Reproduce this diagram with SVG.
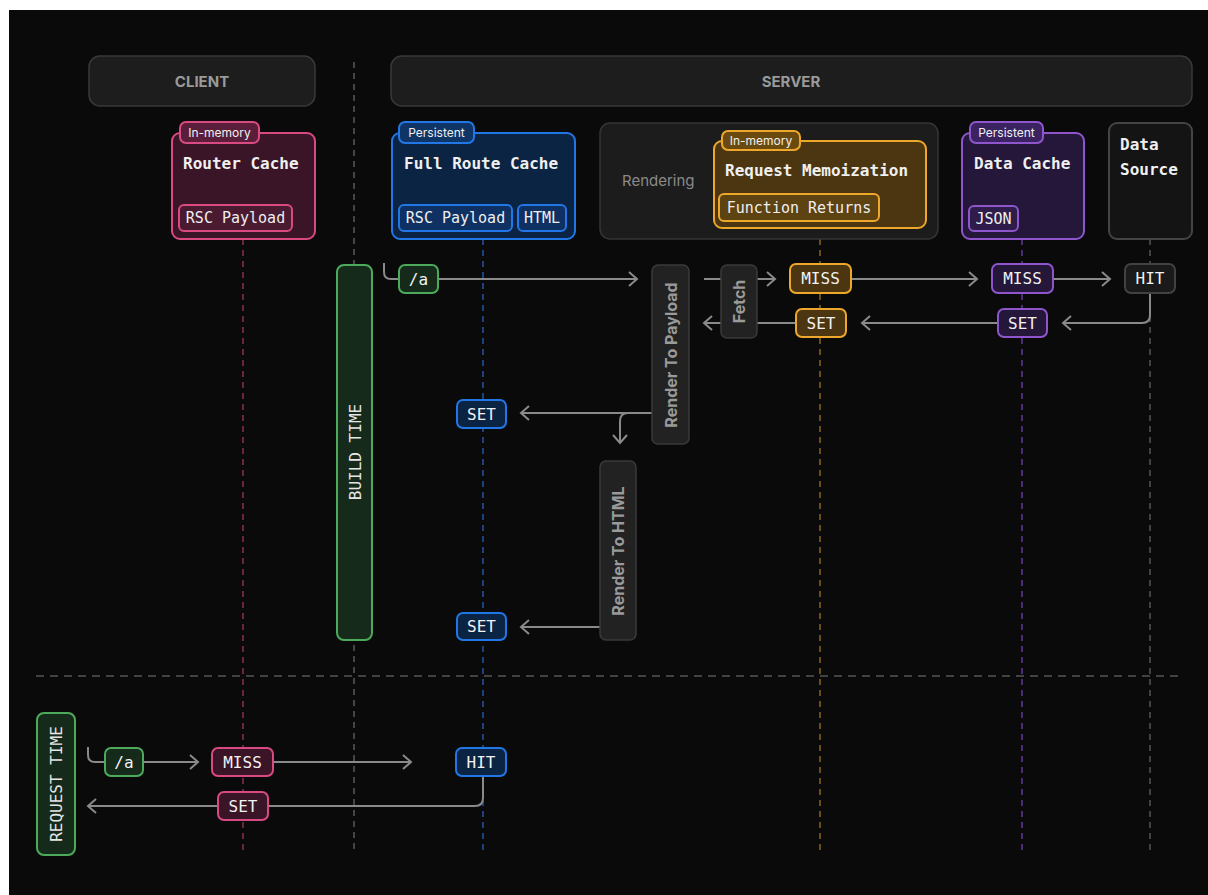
<svg xmlns="http://www.w3.org/2000/svg" width="1208" height="895" viewBox="0 0 1208 895">
<defs>
<style>
.mono{font-family:"DejaVu Sans Mono","Liberation Mono",monospace}
.sans{font-family:Inter,"Liberation Sans",sans-serif}
.hdr{fill:#1d1d1d;stroke:#393939;stroke-width:1.5}
.hdrt{fill:#9a9a9a;font-size:15px;font-weight:700;text-anchor:middle;dominant-baseline:central}
.title{fill:#f0f0f0;font-size:16px;font-weight:700}
.chip{font-size:15px;fill:#eeeeee;text-anchor:middle;dominant-baseline:central}
.fchip{font-size:16px;fill:#f2f2f2;text-anchor:middle;dominant-baseline:central}
.badget{font-size:12px;fill:#f0f0f0;text-anchor:middle;dominant-baseline:central}
.pink{fill:#3a1527;stroke:#d94a82;stroke-width:2}
.blue{fill:#0b2444;stroke:#2277e6;stroke-width:2}
.orange{fill:#4b3611;stroke:#eda72b;stroke-width:2}
.purple{fill:#24173a;stroke:#8e55cc;stroke-width:2}
.green{fill:#162a1b;stroke:#4caa5a;stroke-width:2}
.grayn{fill:#1a1a1a;stroke:#424242;stroke-width:2}
.step{fill:#222222;stroke:#3a3a3a;stroke-width:1.5}
.stept{fill:#9a9a9a;font-size:16px;font-weight:700;text-anchor:middle;dominant-baseline:central}
.conn{fill:none;stroke:#8a8a8a;stroke-width:2}
.life{fill:none;stroke-width:1.5;stroke-dasharray:6 5}
</style>
<marker id="arr" markerUnits="userSpaceOnUse" markerWidth="12" markerHeight="18" refX="9" refY="8" orient="auto">
<path d="M1,1 L9,8 L1,15" fill="none" stroke="#8a8a8a" stroke-width="2"/>
</marker>
</defs>
<rect x="0" y="0" width="1208" height="895" fill="#ffffff"/>
<rect x="9" y="10" width="1199" height="885" fill="#0a0a0a"/>

<g id="lifelines">
<line class="life" x1="354" y1="62" x2="354" y2="852" stroke="#5a5a5a"/>
<line class="life" x1="243" y1="239" x2="243" y2="852" stroke="#8a2f55"/>
<line class="life" x1="483" y1="239" x2="483" y2="852" stroke="#1f57a8"/>
<line class="life" x1="820" y1="228" x2="820" y2="852" stroke="#8c6420"/>
<line class="life" x1="1022" y1="239" x2="1022" y2="852" stroke="#62399a"/>
<line class="life" x1="1150" y1="239" x2="1150" y2="852" stroke="#555555"/>
<line class="life" x1="36" y1="676" x2="1178" y2="676" stroke="#555555" style="stroke-dasharray:8 6"/>
</g>

<g id="connectors">
<path class="conn" d="M384,263 V272 Q384,279 391,279 H399"/>
<path class="conn" d="M438,279 H637" marker-end="url(#arr)"/>
<path class="conn" d="M704,279 H775" marker-end="url(#arr)"/>
<path class="conn" d="M851,279 H977" marker-end="url(#arr)"/>
<path class="conn" d="M1053,279 H1110" marker-end="url(#arr)"/>
<path class="conn" d="M1150,293 V315 Q1150,323 1142,323 H1063" marker-end="url(#arr)"/>
<path class="conn" d="M998,323 H862" marker-end="url(#arr)"/>
<path class="conn" d="M796,323 H704" marker-end="url(#arr)"/>
<path class="conn" d="M652,413 H521" marker-end="url(#arr)"/>
<path class="conn" d="M628,413 Q620,413 620,421 V443" marker-end="url(#arr)"/>
<path class="conn" d="M600,627 H521" marker-end="url(#arr)"/>
<path class="conn" d="M88,747 V755 Q88,762 95,762 H105"/>
<path class="conn" d="M143,762 H198" marker-end="url(#arr)"/>
<path class="conn" d="M273,762 H411" marker-end="url(#arr)"/>
<path class="conn" d="M483,776 V798 Q483,806 475,806 H88" marker-end="url(#arr)"/>
</g>

<g id="client-header">
<rect class="hdr" x="89" y="56" width="226" height="50" rx="11"/>
<text class="sans hdrt" x="202" y="81">CLIENT</text>
</g>
<g id="server-header">
<rect class="hdr" x="391" y="56" width="801" height="50" rx="11"/>
<text class="sans hdrt" x="791" y="81">SERVER</text>
</g>

<g id="router-cache">
<rect class="pink" x="172" y="133" width="143" height="106" rx="8"/>
<rect class="pink" x="180" y="122" width="79" height="21" rx="6" style="fill:#5a1d3a"/>
<text class="sans badget" x="219.5" y="132.5">In-memory</text>
<text class="mono title" x="183" y="169">Router Cache</text>
<rect class="pink" x="179" y="205" width="113" height="26" rx="5" style="fill:#4a1a31"/>
<text class="mono chip" x="235.5" y="218">RSC Payload</text>
</g>

<g id="full-route-cache">
<rect class="blue" x="392" y="133" width="183" height="106" rx="8"/>
<rect class="blue" x="399" y="122" width="75" height="21" rx="6" style="fill:#0f3566"/>
<text class="sans badget" x="436.5" y="132.5">Persistent</text>
<text class="mono title" x="404" y="169">Full Route Cache</text>
<rect class="blue" x="399" y="205" width="113" height="26" rx="5" style="fill:#0f3062"/>
<text class="mono chip" x="455.5" y="218">RSC Payload</text>
<rect class="blue" x="518" y="205" width="48" height="26" rx="5" style="fill:#0f3062"/>
<text class="mono chip" x="542" y="218">HTML</text>
</g>

<g id="rendering">
<rect x="600" y="123" width="338" height="116" rx="10" fill="#1c1c1c" stroke="#353535" stroke-width="1.5"/>
<text class="sans" x="622" y="180" font-size="15" fill="#8a8a8a" dominant-baseline="central">Rendering</text>
</g>

<g id="request-memoization">
<rect class="orange" x="714" y="141" width="212" height="87" rx="8"/>
<rect class="orange" x="722" y="131" width="78" height="19" rx="6" style="fill:#6b4a10"/>
<text class="sans badget" x="761" y="140.5">In-memory</text>
<text class="mono title" x="725" y="176">Request Memoization</text>
<rect class="orange" x="719" y="194" width="160" height="27" rx="5" style="fill:#5e4312"/>
<text class="mono chip" x="799" y="207.5">Function Returns</text>
</g>

<g id="data-cache">
<rect class="purple" x="962" y="133" width="122" height="106" rx="8"/>
<rect class="purple" x="970" y="122" width="73" height="21" rx="6" style="fill:#3a2360"/>
<text class="sans badget" x="1006.5" y="132.5">Persistent</text>
<text class="mono title" x="974" y="169">Data Cache</text>
<rect class="purple" x="969" y="206" width="49" height="25" rx="5" style="fill:#2e1c4a"/>
<text class="mono chip" x="993.5" y="218.5">JSON</text>
</g>

<g id="data-source">
<rect x="1109" y="123" width="83" height="116" rx="8" fill="#141414" stroke="#444444" stroke-width="2"/>
<text class="mono title" x="1120" y="150">Data</text>
<text class="mono title" x="1120" y="175">Source</text>
</g>

<g id="build-time">
<rect class="green" x="337" y="265" width="35" height="375" rx="7"/>
<text class="mono" x="355" y="452" font-size="16" fill="#e6e6e6" text-anchor="middle" dominant-baseline="central" transform="rotate(-90 355 452)">BUILD TIME</text>
</g>

<g id="build-path">
<rect class="green" x="399" y="265" width="39" height="28" rx="6"/>
<text class="mono fchip" x="418.5" y="279">/a</text>
</g>

<g id="render-to-payload">
<rect class="step" x="652" y="265" width="37" height="179" rx="6"/>
<text class="sans stept" x="670.5" y="355" transform="rotate(-90 670.5 355)">Render To Payload</text>
</g>

<g id="fetch">
<rect class="step" x="721" y="265" width="36" height="73" rx="6"/>
<text class="sans stept" x="739" y="301.5" transform="rotate(-90 739 301.5)">Fetch</text>
</g>

<g id="memo-miss">
<rect class="orange" x="790" y="264" width="61" height="29" rx="6"/>
<text class="mono fchip" x="820.5" y="278.5">MISS</text>
</g>
<g id="data-miss">
<rect class="purple" x="992" y="264" width="61" height="29" rx="6"/>
<text class="mono fchip" x="1022.5" y="278.5">MISS</text>
</g>
<g id="source-hit">
<rect class="grayn" x="1125" y="264" width="50" height="29" rx="6"/>
<text class="mono fchip" x="1150" y="278.5">HIT</text>
</g>
<g id="data-set">
<rect class="purple" x="998" y="309" width="49" height="28" rx="6"/>
<text class="mono fchip" x="1022.5" y="323">SET</text>
</g>
<g id="memo-set">
<rect class="orange" x="796" y="309" width="50" height="28" rx="6"/>
<text class="mono fchip" x="821" y="323">SET</text>
</g>

<g id="payload-set">
<rect class="blue" x="457" y="400" width="49" height="28" rx="6"/>
<text class="mono fchip" x="481.5" y="414">SET</text>
</g>

<g id="render-to-html">
<rect class="step" x="600" y="461" width="36" height="179" rx="6"/>
<text class="sans stept" x="618" y="551" transform="rotate(-90 618 551)">Render To HTML</text>
</g>

<g id="html-set">
<rect class="blue" x="457" y="613" width="49" height="27" rx="6"/>
<text class="mono fchip" x="481.5" y="626.5">SET</text>
</g>

<g id="request-time">
<rect class="green" x="37" y="713" width="38" height="142" rx="7"/>
<text class="mono" x="56" y="784" font-size="16" fill="#e6e6e6" text-anchor="middle" dominant-baseline="central" transform="rotate(-90 56 784)">REQUEST TIME</text>
</g>

<g id="request-path">
<rect class="green" x="105" y="748" width="38" height="28" rx="6"/>
<text class="mono fchip" x="124" y="762">/a</text>
</g>
<g id="router-miss">
<rect class="pink" x="212" y="748" width="61" height="28" rx="6"/>
<text class="mono fchip" x="242.5" y="762">MISS</text>
</g>
<g id="route-hit">
<rect class="blue" x="456" y="748" width="50" height="28" rx="6"/>
<text class="mono fchip" x="481" y="762">HIT</text>
</g>
<g id="router-set">
<rect class="pink" x="218" y="792" width="50" height="28" rx="6"/>
<text class="mono fchip" x="243" y="806">SET</text>
</g>
</svg>
